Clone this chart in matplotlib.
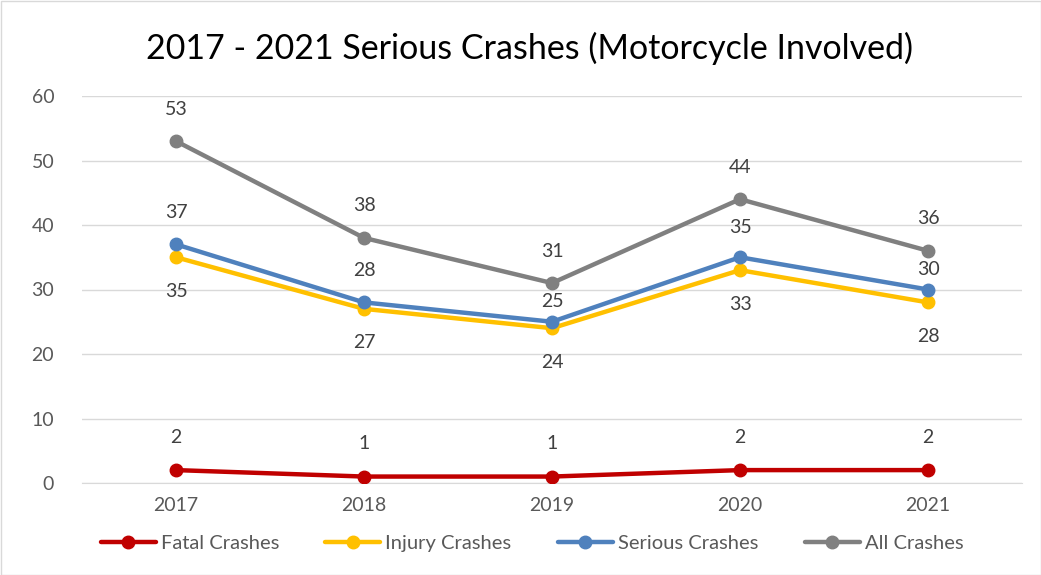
import matplotlib
matplotlib.use("Agg")
import matplotlib.pyplot as plt
from matplotlib.patches import Rectangle

plt.rcParams['font.family'] = ['Lato', 'DejaVu Sans']

years = ["2017", "2018", "2019", "2020", "2021"]
fatal = [2, 1, 1, 2, 2]
injury = [35, 27, 24, 33, 28]
serious = [37, 28, 25, 35, 30]
all_crashes = [53, 38, 31, 44, 36]

PX = 72 / 100  # points per pixel
series = [
    ("Fatal Crashes", fatal, "#C00000", [33] * 5),
    ("Injury Crashes", injury, "#FFC000", [-34] * 5),
    ("Serious Crashes", serious, "#4F81BD", [32, 32, 20, 30, 20]),
    ("All Crashes", all_crashes, "#808080", [32] * 5),
]

fig = plt.figure(figsize=(10.41, 5.75), dpi=100)
ax = fig.add_axes([82/1041, 1-483/575, 940/1041, 387/575])
x = list(range(len(years)))
for name, vals, col, offs in series:
    ax.plot(x, vals, color=col, lw=3.2, marker='o', ms=9, label=name,
            solid_capstyle='round', zorder=3)
    for xi, v, o in zip(x, vals, offs):
        ax.annotate(str(v), (xi, v), xytext=(0, o * PX), textcoords='offset points',
                    ha='center', va='center', fontsize=14, color='#404040')

ax.set_xlim(-0.5, 4.5)
ax.set_ylim(0, 60)
ax.set_yticks(range(0, 61, 10))
ax.set_xticks(x)
ax.set_xticklabels(years)
ax.grid(axis='y', color='#D9D9D9', lw=1)
ax.set_axisbelow(True)
for s in ['top', 'right', 'left']:
    ax.spines[s].set_visible(False)
ax.spines['bottom'].set_color('#D9D9D9')
ax.tick_params(axis='both', length=0, labelsize=14, labelcolor='#595959')
ax.tick_params(axis='y', pad=20)
ax.tick_params(axis='x', pad=10)

fig.text(530/1041, 1-48/575, "2017 - 2021 Serious Crashes (Motorcycle Involved)",
         ha='center', va='center', fontsize=24.5, color='#000000')

leg = fig.legend(loc='center', bbox_to_anchor=(532/1041, 1-543/575), ncol=4,
                 frameon=False, fontsize=14.5, handlelength=2.73, columnspacing=2.3,
                 handletextpad=0.25, labelcolor='#595959')

fig.patches.append(Rectangle((0.5/1041, 0.5/575), 1-1/1041, 1-1/575, transform=fig.transFigure,
                             fill=False, edgecolor='#D9D9D9', lw=1))
fig.savefig("out.png", dpi=100)
